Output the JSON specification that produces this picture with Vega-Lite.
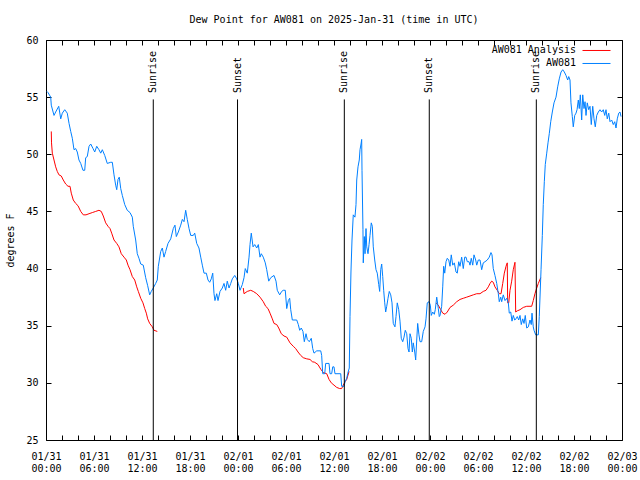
{
  "$schema": "https://vega.github.io/schema/vega-lite/v6.json",
  "autosize": {"type": "none"},
  "width": 576,
  "height": 400,
  "padding": {"left": 46, "top": 40, "right": 18, "bottom": 40},
  "background": "white",
  "title": {"text": "Dew Point for AW081 on 2025-Jan-31 (time in UTC)", "anchor": "middle", "font": "DejaVu Sans Mono", "fontSize": 10, "fontWeight": "normal", "color": "black", "baseline": "bottom", "offset": 0},
  "config": {
    "view": {"stroke": "black", "strokeWidth": 1},
    "axis": {"grid": false, "domain": false, "tickColor": "black", "tickSize": -5, "labelFont": "DejaVu Sans Mono", "labelFontSize": 10, "labelColor": "black", "titleFont": "DejaVu Sans Mono", "titleFontSize": 10, "titleFontWeight": "normal", "titleColor": "black"}
  },
  "datasets": {
    "obs": [
      {"s":"AW081 Analysis","g":"r1","h":0.66,"v":52.0},{"s":"AW081 Analysis","g":"r1","h":0.69,"v":51.0},{"s":"AW081 Analysis","g":"r1","h":0.79,"v":50.1},{"s":"AW081 Analysis","g":"r1","h":1.0,"v":49.5},{"s":"AW081 Analysis","g":"r1","h":1.21,"v":48.9},{"s":"AW081 Analysis","g":"r1","h":1.41,"v":48.5},{"s":"AW081 Analysis","g":"r1","h":1.62,"v":48.2},{"s":"AW081 Analysis","g":"r1","h":1.91,"v":48.1},{"s":"AW081 Analysis","g":"r1","h":2.16,"v":47.75},{"s":"AW081 Analysis","g":"r1","h":2.46,"v":47.4},{"s":"AW081 Analysis","g":"r1","h":2.75,"v":47.2},{"s":"AW081 Analysis","g":"r1","h":3.0,"v":47.2},{"s":"AW081 Analysis","g":"r1","h":3.16,"v":46.6},{"s":"AW081 Analysis","g":"r1","h":3.41,"v":46.0},{"s":"AW081 Analysis","g":"r1","h":3.71,"v":45.7},{"s":"AW081 Analysis","g":"r1","h":4.0,"v":45.5},{"s":"AW081 Analysis","g":"r1","h":4.34,"v":45.0},{"s":"AW081 Analysis","g":"r1","h":4.66,"v":44.7},{"s":"AW081 Analysis","g":"r1","h":5.0,"v":44.7},{"s":"AW081 Analysis","g":"r1","h":5.38,"v":44.8},{"s":"AW081 Analysis","g":"r1","h":5.79,"v":44.9},{"s":"AW081 Analysis","g":"r1","h":6.21,"v":45.0},{"s":"AW081 Analysis","g":"r1","h":6.62,"v":45.1},{"s":"AW081 Analysis","g":"r1","h":6.91,"v":45.0},{"s":"AW081 Analysis","g":"r1","h":7.16,"v":44.6},{"s":"AW081 Analysis","g":"r1","h":7.46,"v":44.0},{"s":"AW081 Analysis","g":"r1","h":7.75,"v":43.7},{"s":"AW081 Analysis","g":"r1","h":8.0,"v":43.5},{"s":"AW081 Analysis","g":"r1","h":8.21,"v":43.1},{"s":"AW081 Analysis","g":"r1","h":8.5,"v":42.5},{"s":"AW081 Analysis","g":"r1","h":8.84,"v":42.2},{"s":"AW081 Analysis","g":"r1","h":9.12,"v":41.9},{"s":"AW081 Analysis","g":"r1","h":9.41,"v":41.3},{"s":"AW081 Analysis","g":"r1","h":9.75,"v":41.0},{"s":"AW081 Analysis","g":"r1","h":10.04,"v":40.75},{"s":"AW081 Analysis","g":"r1","h":10.25,"v":40.3},{"s":"AW081 Analysis","g":"r1","h":10.5,"v":39.9},{"s":"AW081 Analysis","g":"r1","h":10.79,"v":39.3},{"s":"AW081 Analysis","g":"r1","h":11.09,"v":39.0},{"s":"AW081 Analysis","g":"r1","h":11.34,"v":38.4},{"s":"AW081 Analysis","g":"r1","h":11.54,"v":38.0},{"s":"AW081 Analysis","g":"r1","h":11.84,"v":37.4},{"s":"AW081 Analysis","g":"r1","h":12.12,"v":37.0},{"s":"AW081 Analysis","g":"r1","h":12.34,"v":36.5},{"s":"AW081 Analysis","g":"r1","h":12.54,"v":36.1},{"s":"AW081 Analysis","g":"r1","h":12.71,"v":35.6},{"s":"AW081 Analysis","g":"r1","h":12.96,"v":35.2},{"s":"AW081 Analysis","g":"r1","h":13.29,"v":34.9},{"s":"AW081 Analysis","g":"r1","h":13.5,"v":34.6},{"s":"AW081 Analysis","g":"r1","h":13.91,"v":34.5},
      {"s":"AW081 Analysis","g":"r2","h":24.66,"v":38.3},{"s":"AW081 Analysis","g":"r2","h":24.75,"v":37.8},{"s":"AW081 Analysis","g":"r2","h":25.16,"v":38.0},{"s":"AW081 Analysis","g":"r2","h":25.59,"v":38.1},{"s":"AW081 Analysis","g":"r2","h":25.91,"v":38.0},{"s":"AW081 Analysis","g":"r2","h":26.34,"v":37.8},{"s":"AW081 Analysis","g":"r2","h":26.75,"v":37.5},{"s":"AW081 Analysis","g":"r2","h":27.16,"v":37.1},{"s":"AW081 Analysis","g":"r2","h":27.46,"v":36.7},{"s":"AW081 Analysis","g":"r2","h":27.75,"v":36.5},{"s":"AW081 Analysis","g":"r2","h":28.0,"v":36.1},{"s":"AW081 Analysis","g":"r2","h":28.29,"v":35.6},{"s":"AW081 Analysis","g":"r2","h":28.5,"v":35.2},{"s":"AW081 Analysis","g":"r2","h":28.84,"v":35.1},{"s":"AW081 Analysis","g":"r2","h":29.09,"v":34.8},{"s":"AW081 Analysis","g":"r2","h":29.41,"v":34.3},{"s":"AW081 Analysis","g":"r2","h":29.75,"v":34.1},{"s":"AW081 Analysis","g":"r2","h":30.09,"v":34.0},{"s":"AW081 Analysis","g":"r2","h":30.5,"v":33.5},{"s":"AW081 Analysis","g":"r2","h":30.91,"v":33.2},{"s":"AW081 Analysis","g":"r2","h":31.21,"v":33.0},{"s":"AW081 Analysis","g":"r2","h":31.5,"v":32.7},{"s":"AW081 Analysis","g":"r2","h":31.84,"v":32.4},{"s":"AW081 Analysis","g":"r2","h":32.16,"v":32.2},{"s":"AW081 Analysis","g":"r2","h":32.59,"v":32.1},{"s":"AW081 Analysis","g":"r2","h":33.0,"v":32.05},{"s":"AW081 Analysis","g":"r2","h":33.29,"v":31.85},{"s":"AW081 Analysis","g":"r2","h":33.59,"v":31.8},{"s":"AW081 Analysis","g":"r2","h":34.0,"v":31.6},{"s":"AW081 Analysis","g":"r2","h":34.34,"v":31.2},{"s":"AW081 Analysis","g":"r2","h":34.66,"v":30.9},{"s":"AW081 Analysis","g":"r2","h":35.09,"v":30.8},{"s":"AW081 Analysis","g":"r2","h":35.38,"v":30.3},{"s":"AW081 Analysis","g":"r2","h":35.66,"v":30.0},{"s":"AW081 Analysis","g":"r2","h":36.0,"v":29.8},{"s":"AW081 Analysis","g":"r2","h":36.34,"v":29.6},{"s":"AW081 Analysis","g":"r2","h":36.71,"v":29.5},{"s":"AW081 Analysis","g":"r2","h":36.96,"v":29.5},{"s":"AW081 Analysis","g":"r2","h":37.16,"v":29.8},{"s":"AW081 Analysis","g":"r2","h":37.38,"v":30.1},{"s":"AW081 Analysis","g":"r2","h":37.59,"v":30.3},{"s":"AW081 Analysis","g":"r2","h":37.88,"v":31.0},
      {"s":"AW081 Analysis","g":"r3","h":48.75,"v":37.0},{"s":"AW081 Analysis","g":"r3","h":49.04,"v":36.8},{"s":"AW081 Analysis","g":"r3","h":49.34,"v":36.4},{"s":"AW081 Analysis","g":"r3","h":49.59,"v":36.1},{"s":"AW081 Analysis","g":"r3","h":49.88,"v":36.0},{"s":"AW081 Analysis","g":"r3","h":50.16,"v":36.2},{"s":"AW081 Analysis","g":"r3","h":50.5,"v":36.6},{"s":"AW081 Analysis","g":"r3","h":50.91,"v":36.8},{"s":"AW081 Analysis","g":"r3","h":51.34,"v":37.1},{"s":"AW081 Analysis","g":"r3","h":51.75,"v":37.3},{"s":"AW081 Analysis","g":"r3","h":52.16,"v":37.4},{"s":"AW081 Analysis","g":"r3","h":52.59,"v":37.5},{"s":"AW081 Analysis","g":"r3","h":53.0,"v":37.6},{"s":"AW081 Analysis","g":"r3","h":53.41,"v":37.7},{"s":"AW081 Analysis","g":"r3","h":53.84,"v":37.8},{"s":"AW081 Analysis","g":"r3","h":54.25,"v":37.8},{"s":"AW081 Analysis","g":"r3","h":54.66,"v":38.0},{"s":"AW081 Analysis","g":"r3","h":55.0,"v":38.1},{"s":"AW081 Analysis","g":"r3","h":55.29,"v":38.4},{"s":"AW081 Analysis","g":"r3","h":55.5,"v":38.7},{"s":"AW081 Analysis","g":"r3","h":55.71,"v":38.9},{"s":"AW081 Analysis","g":"r3","h":55.91,"v":38.8},{"s":"AW081 Analysis","g":"r3","h":56.12,"v":38.4},{"s":"AW081 Analysis","g":"r3","h":56.41,"v":38.1},{"s":"AW081 Analysis","g":"r3","h":56.66,"v":37.8},{"s":"AW081 Analysis","g":"r3","h":56.88,"v":37.8},{"s":"AW081 Analysis","g":"r3","h":57.09,"v":38.7},{"s":"AW081 Analysis","g":"r3","h":57.29,"v":39.6},{"s":"AW081 Analysis","g":"r3","h":57.5,"v":40.2},{"s":"AW081 Analysis","g":"r3","h":57.66,"v":40.5},{"s":"AW081 Analysis","g":"r3","h":57.71,"v":37.0},{"s":"AW081 Analysis","g":"r3","h":57.84,"v":37.0},{"s":"AW081 Analysis","g":"r3","h":58.0,"v":38.1},{"s":"AW081 Analysis","g":"r3","h":58.21,"v":38.9},{"s":"AW081 Analysis","g":"r3","h":58.41,"v":39.9},{"s":"AW081 Analysis","g":"r3","h":58.62,"v":40.55},{"s":"AW081 Analysis","g":"r3","h":58.71,"v":36.2},{"s":"AW081 Analysis","g":"r3","h":58.91,"v":36.3},{"s":"AW081 Analysis","g":"r3","h":59.25,"v":36.4},{"s":"AW081 Analysis","g":"r3","h":59.66,"v":36.6},{"s":"AW081 Analysis","g":"r3","h":60.09,"v":36.7},{"s":"AW081 Analysis","g":"r3","h":60.71,"v":36.7},{"s":"AW081 Analysis","g":"r3","h":60.91,"v":37.2},{"s":"AW081 Analysis","g":"r3","h":61.12,"v":37.8},{"s":"AW081 Analysis","g":"r3","h":61.34,"v":38.3},{"s":"AW081 Analysis","g":"r3","h":61.54,"v":38.7},{"s":"AW081 Analysis","g":"r3","h":61.84,"v":39.2},
      {"s":"AW081","g":"b","h":0.12,"v":55.5},{"s":"AW081","g":"b","h":0.25,"v":55.4},{"s":"AW081","g":"b","h":0.59,"v":55.0},{"s":"AW081","g":"b","h":0.66,"v":54.3},{"s":"AW081","g":"b","h":1.0,"v":53.4},{"s":"AW081","g":"b","h":1.21,"v":53.7},{"s":"AW081","g":"b","h":1.59,"v":54.2},{"s":"AW081","g":"b","h":1.84,"v":53.1},{"s":"AW081","g":"b","h":2.04,"v":53.6},{"s":"AW081","g":"b","h":2.34,"v":53.9},{"s":"AW081","g":"b","h":2.66,"v":53.6},{"s":"AW081","g":"b","h":2.88,"v":52.7},{"s":"AW081","g":"b","h":3.09,"v":52.0},{"s":"AW081","g":"b","h":3.29,"v":51.4},{"s":"AW081","g":"b","h":3.5,"v":50.4},{"s":"AW081","g":"b","h":3.71,"v":50.5},{"s":"AW081","g":"b","h":3.91,"v":50.2},{"s":"AW081","g":"b","h":4.12,"v":49.5},{"s":"AW081","g":"b","h":4.34,"v":49.2},{"s":"AW081","g":"b","h":4.62,"v":48.6},{"s":"AW081","g":"b","h":4.84,"v":48.6},{"s":"AW081","g":"b","h":4.96,"v":49.7},{"s":"AW081","g":"b","h":5.16,"v":49.8},{"s":"AW081","g":"b","h":5.38,"v":50.7},{"s":"AW081","g":"b","h":5.59,"v":50.9},{"s":"AW081","g":"b","h":5.88,"v":50.5},{"s":"AW081","g":"b","h":6.09,"v":50.2},{"s":"AW081","g":"b","h":6.34,"v":50.7},{"s":"AW081","g":"b","h":6.62,"v":50.4},{"s":"AW081","g":"b","h":6.84,"v":50.1},{"s":"AW081","g":"b","h":7.04,"v":50.4},{"s":"AW081","g":"b","h":7.34,"v":49.9},{"s":"AW081","g":"b","h":7.66,"v":49.2},{"s":"AW081","g":"b","h":8.09,"v":49.3},{"s":"AW081","g":"b","h":8.29,"v":49.3},{"s":"AW081","g":"b","h":8.5,"v":48.2},{"s":"AW081","g":"b","h":8.71,"v":47.3},{"s":"AW081","g":"b","h":8.84,"v":46.9},{"s":"AW081","g":"b","h":9.0,"v":47.8},{"s":"AW081","g":"b","h":9.16,"v":48.0},{"s":"AW081","g":"b","h":9.34,"v":47.0},{"s":"AW081","g":"b","h":9.54,"v":46.4},{"s":"AW081","g":"b","h":9.84,"v":45.6},{"s":"AW081","g":"b","h":10.16,"v":45.1},{"s":"AW081","g":"b","h":10.5,"v":44.9},{"s":"AW081","g":"b","h":10.79,"v":44.5},{"s":"AW081","g":"b","h":10.91,"v":43.7},{"s":"AW081","g":"b","h":11.21,"v":42.5},{"s":"AW081","g":"b","h":11.41,"v":41.3},{"s":"AW081","g":"b","h":11.62,"v":40.9},{"s":"AW081","g":"b","h":11.84,"v":40.4},{"s":"AW081","g":"b","h":12.16,"v":40.3},{"s":"AW081","g":"b","h":12.46,"v":39.2},{"s":"AW081","g":"b","h":12.71,"v":38.5},{"s":"AW081","g":"b","h":12.96,"v":37.7},{"s":"AW081","g":"b","h":13.16,"v":38.0},{"s":"AW081","g":"b","h":13.41,"v":38.3},{"s":"AW081","g":"b","h":13.71,"v":38.7},{"s":"AW081","g":"b","h":13.91,"v":39.0},{"s":"AW081","g":"b","h":14.04,"v":40.2},{"s":"AW081","g":"b","h":14.34,"v":41.5},{"s":"AW081","g":"b","h":14.54,"v":41.8},{"s":"AW081","g":"b","h":14.75,"v":41.0},{"s":"AW081","g":"b","h":14.96,"v":41.5},{"s":"AW081","g":"b","h":15.25,"v":42.2},{"s":"AW081","g":"b","h":15.59,"v":42.6},{"s":"AW081","g":"b","h":15.91,"v":43.5},{"s":"AW081","g":"b","h":16.12,"v":43.8},{"s":"AW081","g":"b","h":16.29,"v":42.8},{"s":"AW081","g":"b","h":16.54,"v":43.2},{"s":"AW081","g":"b","h":16.84,"v":43.8},{"s":"AW081","g":"b","h":17.04,"v":44.3},{"s":"AW081","g":"b","h":17.25,"v":44.1},{"s":"AW081","g":"b","h":17.46,"v":45.1},{"s":"AW081","g":"b","h":17.66,"v":44.3},{"s":"AW081","g":"b","h":17.88,"v":43.5},{"s":"AW081","g":"b","h":18.09,"v":42.9},{"s":"AW081","g":"b","h":18.41,"v":42.9},{"s":"AW081","g":"b","h":18.59,"v":43.1},{"s":"AW081","g":"b","h":18.84,"v":42.2},{"s":"AW081","g":"b","h":19.12,"v":41.8},{"s":"AW081","g":"b","h":19.34,"v":41.0},{"s":"AW081","g":"b","h":19.54,"v":40.3},{"s":"AW081","g":"b","h":19.75,"v":39.6},{"s":"AW081","g":"b","h":20.04,"v":39.6},{"s":"AW081","g":"b","h":20.25,"v":39.0},{"s":"AW081","g":"b","h":20.46,"v":38.8},{"s":"AW081","g":"b","h":20.66,"v":39.1},{"s":"AW081","g":"b","h":20.84,"v":39.6},{"s":"AW081","g":"b","h":21.0,"v":37.8},{"s":"AW081","g":"b","h":21.12,"v":37.2},{"s":"AW081","g":"b","h":21.34,"v":37.8},{"s":"AW081","g":"b","h":21.5,"v":37.2},{"s":"AW081","g":"b","h":21.75,"v":38.0},{"s":"AW081","g":"b","h":22.04,"v":38.3},{"s":"AW081","g":"b","h":22.25,"v":38.7},{"s":"AW081","g":"b","h":22.46,"v":38.1},{"s":"AW081","g":"b","h":22.66,"v":38.9},{"s":"AW081","g":"b","h":22.88,"v":38.3},{"s":"AW081","g":"b","h":23.09,"v":38.7},{"s":"AW081","g":"b","h":23.29,"v":39.1},{"s":"AW081","g":"b","h":23.59,"v":39.4},{"s":"AW081","g":"b","h":23.84,"v":39.1},{"s":"AW081","g":"b","h":24.04,"v":38.7},{"s":"AW081","g":"b","h":24.25,"v":38.1},{"s":"AW081","g":"b","h":24.54,"v":38.6},{"s":"AW081","g":"b","h":24.75,"v":39.2},{"s":"AW081","g":"b","h":24.91,"v":40.0},{"s":"AW081","g":"b","h":25.16,"v":39.6},{"s":"AW081","g":"b","h":25.38,"v":41.0},{"s":"AW081","g":"b","h":25.5,"v":42.1},{"s":"AW081","g":"b","h":25.66,"v":43.1},{"s":"AW081","g":"b","h":25.88,"v":41.9},{"s":"AW081","g":"b","h":26.09,"v":42.1},{"s":"AW081","g":"b","h":26.34,"v":41.8},{"s":"AW081","g":"b","h":26.54,"v":42.1},{"s":"AW081","g":"b","h":26.75,"v":41.0},{"s":"AW081","g":"b","h":26.91,"v":41.3},{"s":"AW081","g":"b","h":27.16,"v":41.0},{"s":"AW081","g":"b","h":27.41,"v":40.5},{"s":"AW081","g":"b","h":27.59,"v":39.9},{"s":"AW081","g":"b","h":27.84,"v":38.9},{"s":"AW081","g":"b","h":28.09,"v":39.2},{"s":"AW081","g":"b","h":28.5,"v":39.4},{"s":"AW081","g":"b","h":28.75,"v":38.9},{"s":"AW081","g":"b","h":28.91,"v":38.1},{"s":"AW081","g":"b","h":29.21,"v":37.7},{"s":"AW081","g":"b","h":29.46,"v":38.0},{"s":"AW081","g":"b","h":29.66,"v":38.1},{"s":"AW081","g":"b","h":29.91,"v":38.1},{"s":"AW081","g":"b","h":30.09,"v":36.5},{"s":"AW081","g":"b","h":30.29,"v":37.2},{"s":"AW081","g":"b","h":30.46,"v":37.4},{"s":"AW081","g":"b","h":30.59,"v":36.4},{"s":"AW081","g":"b","h":30.79,"v":35.5},{"s":"AW081","g":"b","h":31.34,"v":35.5},{"s":"AW081","g":"b","h":31.54,"v":35.1},{"s":"AW081","g":"b","h":31.71,"v":34.6},{"s":"AW081","g":"b","h":31.91,"v":34.8},{"s":"AW081","g":"b","h":32.12,"v":34.5},{"s":"AW081","g":"b","h":32.29,"v":33.6},{"s":"AW081","g":"b","h":32.5,"v":34.3},{"s":"AW081","g":"b","h":32.66,"v":33.8},{"s":"AW081","g":"b","h":32.91,"v":33.6},{"s":"AW081","g":"b","h":33.16,"v":33.9},{"s":"AW081","g":"b","h":33.34,"v":33.0},{"s":"AW081","g":"b","h":33.5,"v":32.6},{"s":"AW081","g":"b","h":33.84,"v":32.8},{"s":"AW081","g":"b","h":34.34,"v":32.8},{"s":"AW081","g":"b","h":34.46,"v":32.4},{"s":"AW081","g":"b","h":34.59,"v":30.8},{"s":"AW081","g":"b","h":34.84,"v":30.8},{"s":"AW081","g":"b","h":34.96,"v":31.7},{"s":"AW081","g":"b","h":35.38,"v":31.7},{"s":"AW081","g":"b","h":35.5,"v":30.8},{"s":"AW081","g":"b","h":35.71,"v":30.8},{"s":"AW081","g":"b","h":35.84,"v":31.4},{"s":"AW081","g":"b","h":36.0,"v":31.4},{"s":"AW081","g":"b","h":36.12,"v":30.8},{"s":"AW081","g":"b","h":36.84,"v":30.8},{"s":"AW081","g":"b","h":36.96,"v":29.7},{"s":"AW081","g":"b","h":37.25,"v":29.7},{"s":"AW081","g":"b","h":37.38,"v":30.1},{"s":"AW081","g":"b","h":37.59,"v":30.4},{"s":"AW081","g":"b","h":37.71,"v":30.8},{"s":"AW081","g":"b","h":37.91,"v":31.3},{"s":"AW081","g":"b","h":38.0,"v":35.8},{"s":"AW081","g":"b","h":38.12,"v":39.7},{"s":"AW081","g":"b","h":38.25,"v":42.5},{"s":"AW081","g":"b","h":38.41,"v":44.7},{"s":"AW081","g":"b","h":38.62,"v":44.5},{"s":"AW081","g":"b","h":38.75,"v":45.6},{"s":"AW081","g":"b","h":38.84,"v":47.75},{"s":"AW081","g":"b","h":39.0,"v":48.9},{"s":"AW081","g":"b","h":39.16,"v":49.5},{"s":"AW081","g":"b","h":39.25,"v":50.4},{"s":"AW081","g":"b","h":39.38,"v":50.9},{"s":"AW081","g":"b","h":39.46,"v":51.3},{"s":"AW081","g":"b","h":39.5,"v":48.6},{"s":"AW081","g":"b","h":39.62,"v":43.4},{"s":"AW081","g":"b","h":39.66,"v":40.5},{"s":"AW081","g":"b","h":39.79,"v":42.8},{"s":"AW081","g":"b","h":39.88,"v":41.3},{"s":"AW081","g":"b","h":40.0,"v":43.5},{"s":"AW081","g":"b","h":40.09,"v":41.9},{"s":"AW081","g":"b","h":40.25,"v":41.3},{"s":"AW081","g":"b","h":40.38,"v":42.1},{"s":"AW081","g":"b","h":40.5,"v":42.9},{"s":"AW081","g":"b","h":40.66,"v":44.0},{"s":"AW081","g":"b","h":40.79,"v":43.7},{"s":"AW081","g":"b","h":40.91,"v":41.9},{"s":"AW081","g":"b","h":41.09,"v":40.75},{"s":"AW081","g":"b","h":41.25,"v":39.9},{"s":"AW081","g":"b","h":41.41,"v":39.6},{"s":"AW081","g":"b","h":41.59,"v":38.6},{"s":"AW081","g":"b","h":41.71,"v":38.0},{"s":"AW081","g":"b","h":41.84,"v":39.9},{"s":"AW081","g":"b","h":41.96,"v":40.4},{"s":"AW081","g":"b","h":42.09,"v":39.3},{"s":"AW081","g":"b","h":42.21,"v":38.1},{"s":"AW081","g":"b","h":42.34,"v":37.0},{"s":"AW081","g":"b","h":42.46,"v":36.2},{"s":"AW081","g":"b","h":42.59,"v":36.7},{"s":"AW081","g":"b","h":42.75,"v":37.4},{"s":"AW081","g":"b","h":42.91,"v":38.0},{"s":"AW081","g":"b","h":43.09,"v":37.7},{"s":"AW081","g":"b","h":43.25,"v":37.0},{"s":"AW081","g":"b","h":43.41,"v":35.2},{"s":"AW081","g":"b","h":43.62,"v":34.9},{"s":"AW081","g":"b","h":43.75,"v":35.8},{"s":"AW081","g":"b","h":43.91,"v":37.0},{"s":"AW081","g":"b","h":44.09,"v":36.4},{"s":"AW081","g":"b","h":44.25,"v":35.4},{"s":"AW081","g":"b","h":44.41,"v":33.9},{"s":"AW081","g":"b","h":44.59,"v":33.6},{"s":"AW081","g":"b","h":44.75,"v":34.0},{"s":"AW081","g":"b","h":44.91,"v":34.6},{"s":"AW081","g":"b","h":45.09,"v":34.3},{"s":"AW081","g":"b","h":45.25,"v":33.0},{"s":"AW081","g":"b","h":45.38,"v":32.7},{"s":"AW081","g":"b","h":45.5,"v":34.3},{"s":"AW081","g":"b","h":45.66,"v":33.9},{"s":"AW081","g":"b","h":45.79,"v":32.7},{"s":"AW081","g":"b","h":45.91,"v":33.5},{"s":"AW081","g":"b","h":46.09,"v":32.7},{"s":"AW081","g":"b","h":46.21,"v":32.0},{"s":"AW081","g":"b","h":46.34,"v":33.75},{"s":"AW081","g":"b","h":46.46,"v":35.2},{"s":"AW081","g":"b","h":46.62,"v":34.2},{"s":"AW081","g":"b","h":46.75,"v":33.6},{"s":"AW081","g":"b","h":46.96,"v":33.6},{"s":"AW081","g":"b","h":47.16,"v":34.5},{"s":"AW081","g":"b","h":47.38,"v":34.9},{"s":"AW081","g":"b","h":47.5,"v":35.6},{"s":"AW081","g":"b","h":47.66,"v":37.0},{"s":"AW081","g":"b","h":47.88,"v":37.1},{"s":"AW081","g":"b","h":48.04,"v":36.8},{"s":"AW081","g":"b","h":48.16,"v":35.9},{"s":"AW081","g":"b","h":48.34,"v":36.2},{"s":"AW081","g":"b","h":48.54,"v":36.0},{"s":"AW081","g":"b","h":48.66,"v":36.4},{"s":"AW081","g":"b","h":48.84,"v":37.5},{"s":"AW081","g":"b","h":49.04,"v":36.5},{"s":"AW081","g":"b","h":49.16,"v":35.8},{"s":"AW081","g":"b","h":49.25,"v":35.9},{"s":"AW081","g":"b","h":49.46,"v":36.7},{"s":"AW081","g":"b","h":49.59,"v":38.4},{"s":"AW081","g":"b","h":49.71,"v":40.2},{"s":"AW081","g":"b","h":49.84,"v":39.6},{"s":"AW081","g":"b","h":50.0,"v":40.6},{"s":"AW081","g":"b","h":50.16,"v":40.9},{"s":"AW081","g":"b","h":50.34,"v":40.75},{"s":"AW081","g":"b","h":50.5,"v":40.2},{"s":"AW081","g":"b","h":50.66,"v":41.2},{"s":"AW081","g":"b","h":50.84,"v":40.3},{"s":"AW081","g":"b","h":51.04,"v":40.5},{"s":"AW081","g":"b","h":51.25,"v":39.7},{"s":"AW081","g":"b","h":51.41,"v":39.6},{"s":"AW081","g":"b","h":51.59,"v":40.6},{"s":"AW081","g":"b","h":51.75,"v":40.2},{"s":"AW081","g":"b","h":51.96,"v":41.0},{"s":"AW081","g":"b","h":52.16,"v":40.0},{"s":"AW081","g":"b","h":52.34,"v":41.0},{"s":"AW081","g":"b","h":52.5,"v":41.0},{"s":"AW081","g":"b","h":52.66,"v":40.6},{"s":"AW081","g":"b","h":52.88,"v":40.6},{"s":"AW081","g":"b","h":53.0,"v":40.3},{"s":"AW081","g":"b","h":53.16,"v":40.9},{"s":"AW081","g":"b","h":53.34,"v":40.3},{"s":"AW081","g":"b","h":53.5,"v":41.2},{"s":"AW081","g":"b","h":53.71,"v":40.75},{"s":"AW081","g":"b","h":53.84,"v":40.3},{"s":"AW081","g":"b","h":54.04,"v":40.75},{"s":"AW081","g":"b","h":54.25,"v":40.75},{"s":"AW081","g":"b","h":54.46,"v":39.9},{"s":"AW081","g":"b","h":54.66,"v":40.5},{"s":"AW081","g":"b","h":54.88,"v":40.6},{"s":"AW081","g":"b","h":55.16,"v":40.75},{"s":"AW081","g":"b","h":55.41,"v":41.0},{"s":"AW081","g":"b","h":55.62,"v":41.4},{"s":"AW081","g":"b","h":55.75,"v":41.2},{"s":"AW081","g":"b","h":55.91,"v":40.0},{"s":"AW081","g":"b","h":56.12,"v":39.4},{"s":"AW081","g":"b","h":56.34,"v":38.7},{"s":"AW081","g":"b","h":56.54,"v":37.8},{"s":"AW081","g":"b","h":56.66,"v":37.1},{"s":"AW081","g":"b","h":56.84,"v":37.5},{"s":"AW081","g":"b","h":56.96,"v":37.1},{"s":"AW081","g":"b","h":57.16,"v":37.7},{"s":"AW081","g":"b","h":57.38,"v":37.2},{"s":"AW081","g":"b","h":57.59,"v":37.4},{"s":"AW081","g":"b","h":57.79,"v":37.0},{"s":"AW081","g":"b","h":57.91,"v":36.1},{"s":"AW081","g":"b","h":58.09,"v":36.2},{"s":"AW081","g":"b","h":58.25,"v":35.4},{"s":"AW081","g":"b","h":58.41,"v":35.9},{"s":"AW081","g":"b","h":58.59,"v":35.5},{"s":"AW081","g":"b","h":58.75,"v":35.6},{"s":"AW081","g":"b","h":58.91,"v":35.8},{"s":"AW081","g":"b","h":59.09,"v":35.5},{"s":"AW081","g":"b","h":59.25,"v":35.9},{"s":"AW081","g":"b","h":59.41,"v":35.1},{"s":"AW081","g":"b","h":59.59,"v":35.6},{"s":"AW081","g":"b","h":59.75,"v":35.2},{"s":"AW081","g":"b","h":59.91,"v":35.9},{"s":"AW081","g":"b","h":60.09,"v":34.8},{"s":"AW081","g":"b","h":60.29,"v":34.9},{"s":"AW081","g":"b","h":60.5,"v":35.5},{"s":"AW081","g":"b","h":60.66,"v":35.1},{"s":"AW081","g":"b","h":60.75,"v":36.1},{"s":"AW081","g":"b","h":60.91,"v":34.9},{"s":"AW081","g":"b","h":61.0,"v":34.6},{"s":"AW081","g":"b","h":61.21,"v":34.2},{"s":"AW081","g":"b","h":61.54,"v":34.2},{"s":"AW081","g":"b","h":61.66,"v":35.8},{"s":"AW081","g":"b","h":61.88,"v":39.9},{"s":"AW081","g":"b","h":62.04,"v":42.9},{"s":"AW081","g":"b","h":62.16,"v":45.6},{"s":"AW081","g":"b","h":62.29,"v":47.6},{"s":"AW081","g":"b","h":62.41,"v":49.1},{"s":"AW081","g":"b","h":62.59,"v":50.1},{"s":"AW081","g":"b","h":62.75,"v":51.0},{"s":"AW081","g":"b","h":62.91,"v":51.8},{"s":"AW081","g":"b","h":63.09,"v":52.85},{"s":"AW081","g":"b","h":63.29,"v":53.7},{"s":"AW081","g":"b","h":63.5,"v":54.5},{"s":"AW081","g":"b","h":63.75,"v":55.0},{"s":"AW081","g":"b","h":63.96,"v":55.9},{"s":"AW081","g":"b","h":64.16,"v":56.6},{"s":"AW081","g":"b","h":64.38,"v":57.2},{"s":"AW081","g":"b","h":64.59,"v":57.4},{"s":"AW081","g":"b","h":64.79,"v":57.2},{"s":"AW081","g":"b","h":65.0,"v":56.9},{"s":"AW081","g":"b","h":65.21,"v":56.5},{"s":"AW081","g":"b","h":65.34,"v":56.8},{"s":"AW081","g":"b","h":65.5,"v":56.5},{"s":"AW081","g":"b","h":65.62,"v":54.5},{"s":"AW081","g":"b","h":65.79,"v":53.3},{"s":"AW081","g":"b","h":65.91,"v":52.4},{"s":"AW081","g":"b","h":66.09,"v":53.4},{"s":"AW081","g":"b","h":66.25,"v":53.6},{"s":"AW081","g":"b","h":66.38,"v":53.9},{"s":"AW081","g":"b","h":66.54,"v":54.75},{"s":"AW081","g":"b","h":66.66,"v":54.0},{"s":"AW081","g":"b","h":66.79,"v":55.2},{"s":"AW081","g":"b","h":66.96,"v":53.0},{"s":"AW081","g":"b","h":67.09,"v":55.2},{"s":"AW081","g":"b","h":67.25,"v":54.0},{"s":"AW081","g":"b","h":67.38,"v":54.6},{"s":"AW081","g":"b","h":67.5,"v":53.4},{"s":"AW081","g":"b","h":67.66,"v":54.5},{"s":"AW081","g":"b","h":67.84,"v":53.9},{"s":"AW081","g":"b","h":68.0,"v":54.2},{"s":"AW081","g":"b","h":68.16,"v":52.6},{"s":"AW081","g":"b","h":68.34,"v":54.2},{"s":"AW081","g":"b","h":68.5,"v":53.1},{"s":"AW081","g":"b","h":68.66,"v":52.4},{"s":"AW081","g":"b","h":68.84,"v":53.4},{"s":"AW081","g":"b","h":69.04,"v":53.7},{"s":"AW081","g":"b","h":69.25,"v":53.9},{"s":"AW081","g":"b","h":69.46,"v":53.7},{"s":"AW081","g":"b","h":69.66,"v":53.9},{"s":"AW081","g":"b","h":69.84,"v":53.4},{"s":"AW081","g":"b","h":70.0,"v":53.9},{"s":"AW081","g":"b","h":70.16,"v":53.1},{"s":"AW081","g":"b","h":70.34,"v":53.6},{"s":"AW081","g":"b","h":70.5,"v":52.85},{"s":"AW081","g":"b","h":70.71,"v":53.0},{"s":"AW081","g":"b","h":70.91,"v":52.6},{"s":"AW081","g":"b","h":71.09,"v":52.85},{"s":"AW081","g":"b","h":71.25,"v":52.3},{"s":"AW081","g":"b","h":71.41,"v":53.1},{"s":"AW081","g":"b","h":71.59,"v":53.6},{"s":"AW081","g":"b","h":71.75,"v":53.7},{"s":"AW081","g":"b","h":71.88,"v":53.3}
    ],
    "sun": [
      {"h": 13.41, "e": "Sunrise"},
      {"h": 23.94, "e": "Sunset"},
      {"h": 37.29, "e": "Sunrise"},
      {"h": 47.91, "e": "Sunset"},
      {"h": 61.29, "e": "Sunrise"}
    ]
  },
  "layer": [
    {
      "data": {"name": "obs"},
      "mark": {"type": "line", "strokeWidth": 1, "interpolate": "linear"},
      "encoding": {
        "x": {"field": "h", "type": "quantitative", "scale": {"domain": [0, 72], "nice": false, "zero": false},
          "axis": {"orient": "bottom", "title": null, "values": [0,2,4,6,8,10,12,14,16,18,20,22,24,26,28,30,32,34,36,38,40,42,44,46,48,50,52,54,56,58,60,62,64,66,68,70,72], "labelExpr": "datum.value % 6 == 0 ? [utcFormat(utc(2025,0,31) + datum.value*3600000, '%m/%d'), utcFormat(utc(2025,0,31) + datum.value*3600000, '%H:%M')] : ''", "labelOverlap": false, "labelFlush": false, "labelBaseline": "top", "labelLineHeight": 12, "labelPadding": 16}},
        "y": {"field": "v", "type": "quantitative", "scale": {"domain": [25, 60], "nice": false, "zero": false},
          "axis": {"orient": "left", "title": "degrees F", "values": [25,30,35,40,45,50,55,60], "labelPadding": 13, "titleX": -36, "titleY": 200, "titleAngle": 270, "titleAlign": "center", "titleBaseline": "middle"}},
        "color": {"field": "s", "type": "nominal",
          "scale": {"domain": ["AW081 Analysis", "AW081"], "range": ["#ff0000", "#0080ff"]},
          "legend": {"orient": "none", "legendX": 536, "legendY": 2, "title": null, "symbolType": "M-1,-0.43H1", "symbolSize": 784, "symbolStrokeWidth": 1, "labelAlign": "right", "labelOffset": -35, "labelFont": "DejaVu Sans Mono", "labelFontSize": 10, "labelColor": "black", "rowPadding": 0, "padding": 0, "symbolOffset": 0,
            "encode": {"labels": {"update": {"y": {"value": 7.5}}}}}},
        "detail": {"field": "g"}
      }
    },
    {
      "data": {"name": "sun"},
      "mark": {"type": "rule", "color": "black", "strokeWidth": 1},
      "encoding": {
        "x": {"field": "h", "type": "quantitative", "axis": {"orient": "top", "labels": false, "title": null, "values": [0,2,4,6,8,10,12,14,16,18,20,22,24,26,28,30,32,34,36,38,40,42,44,46,48,50,52,54,56,58,60,62,64,66,68,70,72]}},
        "y": {"datum": 54.8, "type": "quantitative", "axis": {"orient": "right", "labels": false, "title": null, "values": [25,30,35,40,45,50,55,60]}},
        "y2": {"datum": 25}
      }
    },
    {
      "data": {"name": "sun"},
      "mark": {"type": "text", "angle": 270, "align": "left", "baseline": "middle", "font": "DejaVu Sans Mono", "fontSize": 10, "color": "black"},
      "encoding": {
        "x": {"field": "h", "type": "quantitative", "axis": null},
        "y": {"datum": 55.36, "type": "quantitative", "axis": null},
        "text": {"field": "e"}
      }
    }
  ]
}
